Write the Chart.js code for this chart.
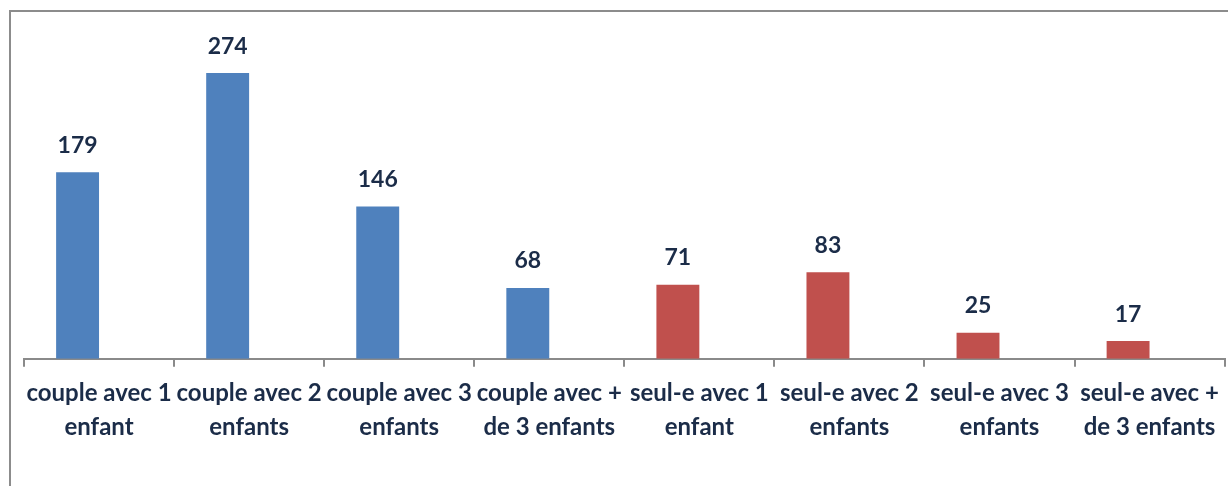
<!DOCTYPE html>
<html>
<head>
<meta charset="utf-8">
<script src="https://cdn.jsdelivr.net/npm/chart.js@4"></script>
<style>
  html, body { margin: 0; padding: 0; background: #fff; overflow: hidden; }
  #wrap { position: relative; width: 1228px; height: 486px; }
  #frame { position: absolute; left: 9px; top: 10px; width: 1300px; height: 600px;
           border: 2px solid #8c8c8c; box-sizing: border-box; pointer-events: none; }
  canvas { position: absolute; left: 0; top: 0; }
</style>
</head>
<body>
<div id="wrap">
  <canvas id="chart" width="1228" height="486"></canvas>
  <div id="frame"></div>
</div>
<script>
// categories (two lines each, as in the picture)
const categories = [
    ['couple avec 1', 'enfant'],
    ['couple avec 2', 'enfants'],
    ['couple avec 3', 'enfants'],
    ['couple avec +', 'de 3 enfants'],
    ['seul-e avec 1', 'enfant'],
    ['seul-e avec 2', 'enfants'],
    ['seul-e avec 3', 'enfants'],
    ['seul-e avec +', 'de 3 enfants']
];
const households = [179, 274, 146, 68, 71, 83, 25, 17];
const group = ['couple', 'couple', 'couple', 'couple', 'seul', 'seul', 'seul', 'seul'];
// the original chart keeps an empty second series, which pushes the bars left
const emptySeries = [];

const groupColors = { couple: '#4F81BD', seul: '#C0504D' };
const textColor = '#1B2C48';

// value above each bar
const valueLabels = {
    id: 'valueLabels',
    afterDatasetsDraw(chart) {
        const ctx = chart.ctx;
        const meta = chart.getDatasetMeta(0);
        ctx.save();
        ctx.font = 'bold 23px Lato';
        ctx.fillStyle = textColor;
        ctx.textAlign = 'center';
        ctx.textBaseline = 'middle';
        meta.data.forEach((bar, i) => {
            ctx.fillText(households[i], bar.x, bar.y - 27);
        });
        ctx.restore();
    }
};

const ctx = document.getElementById('chart').getContext('2d');
const chart = new Chart(ctx, {
    type: 'bar',
    data: {
        labels: categories,
        datasets: [{
            data: households,
            backgroundColor: group.map(g => groupColors[g]),
            barPercentage: 1,
            categoryPercentage: 0.572
        }, {
            data: emptySeries,
            barPercentage: 1,
            categoryPercentage: 0.572
        }]
    },
    options: {
        responsive: false,
        animation: false,
        layout: { padding: { top: 46, left: 24, right: 1, bottom: 33 } },
        plugins: {
            legend: { display: false },
            tooltip: { enabled: false }
        },
        scales: {
            x: {
                grid: {
                    display: true,
                    drawOnChartArea: false,
                    drawTicks: true,
                    tickLength: 8,
                    color: '#8a8a8a',
                    lineWidth: 2,
                    offset: true
                },
                border: { display: true, color: '#8a8a8a', width: 2 },
                ticks: {
                    color: textColor,
                    font: { family: 'Lato', weight: 'bold', size: 24, lineHeight: 1.42 },
                    maxRotation: 0,
                    minRotation: 0,
                    autoSkip: false,
                    padding: 9
                }
            },
            y: {
                display: false,
                min: 0,
                max: 300
            }
        }
    },
    plugins: [valueLabels]
});
</script>
</body>
</html>
